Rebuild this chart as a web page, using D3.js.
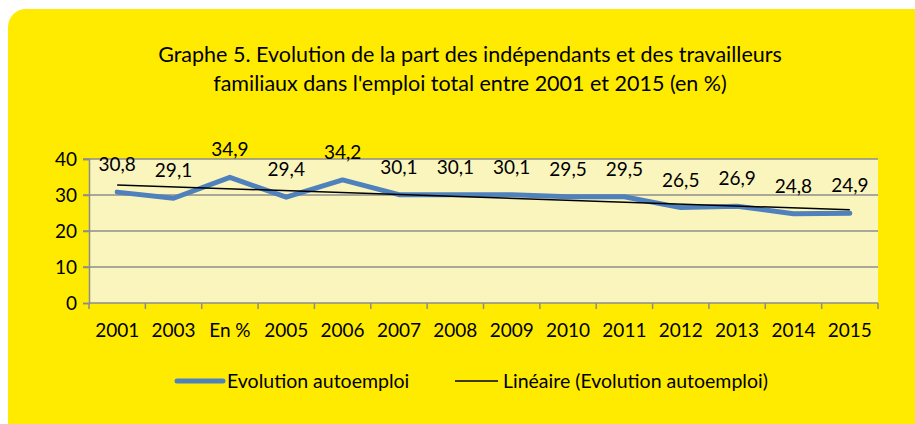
<!DOCTYPE html>
<html>
<head>
<meta charset="utf-8">
<script src="https://cdn.jsdelivr.net/npm/d3@7"></script>
<style>
  body { margin: 0; background: #fff; }
  text { font-family: Lato, "Open Sans", sans-serif; fill: #000; }
</style>
</head>
<body>
<div id="chart"></div>
<script>
// data
var categories = ["2001", "2003", "En %", "2005", "2006", "2007", "2008", "2009", "2010", "2011", "2012", "2013", "2014", "2015"];
var values = [30.8, 29.1, 34.9, 29.4, 34.2, 30.1, 30.1, 30.1, 29.5, 29.5, 26.5, 26.9, 24.8, 24.9];
var yTicks = [0, 10, 20, 30, 40];
var titleLines = ["Graphe 5. Evolution de la part des indépendants et des travailleurs",
                  "familiaux dans l'emploi total entre 2001 et 2015 (en %)"];
var seriesNames = ["Evolution autoemploi", "Linéaire (Evolution autoemploi)"];

var W = 915, H = 424;
var margin = {top: 159, right: 37, bottom: 121, left: 89},
    width = W - margin.left - margin.right,
    height = H - margin.top - margin.bottom;

var svg = d3.select("#chart")
  .append("svg")
    .attr("width", W)
    .attr("height", H);

// yellow rounded panel
svg.append("rect")
  .attr("x", 8).attr("y", 9)
  .attr("width", 930).attr("height", 432)
  .attr("rx", 18)
  .style("fill", "#ffeb00");

// title
svg.selectAll(".title")
  .data(titleLines)
  .enter()
  .append("text")
    .attr("class", "title")
    .attr("x", 470)
    .attr("y", function(d, i) { return 62 + i * 29; })
    .attr("text-anchor", "middle")
    .style("font-size", "21.5px")
    .text(function(d) { return d; });

var g = svg.append("g")
  .attr("transform", "translate(" + margin.left + "," + margin.top + ")");

var x = d3.scaleBand()
  .domain(categories)
  .range([0, width]);

var y = d3.scaleLinear()
  .domain([0, 40])
  .range([height, 0]);

// plot area
g.append("rect")
  .attr("width", width)
  .attr("height", height)
  .style("fill", "#faf5bd");

// gridlines
g.selectAll(".grid")
  .data(yTicks.slice(1))
  .enter()
  .append("line")
    .attr("x1", -6).attr("x2", width)
    .attr("y1", function(d) { return y(d); })
    .attr("y2", function(d) { return y(d); })
    .style("stroke", "#8c8c8c")
    .style("stroke-width", 1.5);

// y axis
var yAxis = g.append("g")
  .call(d3.axisLeft(y).tickValues(yTicks).tickSize(6).tickPadding(6));
yAxis.select(".domain").style("stroke", "#8c8c8c").style("stroke-width", 1.5);
yAxis.selectAll(".tick line").style("stroke", "#8c8c8c").style("stroke-width", 1.5);
yAxis.selectAll("text").style("font-size", "19px").style("font-family", "Lato, 'Open Sans', sans-serif");

// x axis: ticks on band boundaries
var xAxis = g.append("g")
  .attr("transform", "translate(0," + height + ")");
xAxis.append("line")
  .attr("x1", 0).attr("x2", width)
  .style("stroke", "#8c8c8c").style("stroke-width", 1.5);
xAxis.selectAll(".xtick")
  .data(categories.concat(["end"]))
  .enter()
  .append("line")
    .attr("x1", function(d, i) { return i < categories.length ? x(d) : width; })
    .attr("x2", function(d, i) { return i < categories.length ? x(d) : width; })
    .attr("y1", 0).attr("y2", 6)
    .style("stroke", "#8c8c8c").style("stroke-width", 1.5);
xAxis.selectAll(".xlabel")
  .data(categories)
  .enter()
  .append("text")
    .attr("x", function(d) { return x(d) + x.bandwidth() / 2; })
    .attr("y", 34)
    .attr("text-anchor", "middle")
    .style("font-size", "19px")
    .text(function(d) { return d; });

// series line
var line = d3.line()
  .x(function(d, i) { return x(categories[i]) + x.bandwidth() / 2; })
  .y(function(d) { return y(d); });

g.append("path")
  .datum(values)
  .attr("d", line)
  .style("fill", "none")
  .style("stroke", "#4f81bd")
  .style("stroke-width", 5)
  .style("stroke-linejoin", "round")
  .style("stroke-linecap", "round");

// linear trend (least squares on index)
var n = values.length;
var xs = d3.range(1, n + 1);
var mx = d3.mean(xs), my = d3.mean(values);
var sxy = d3.sum(xs, function(v, i) { return (v - mx) * (values[i] - my); });
var sxx = d3.sum(xs, function(v) { return (v - mx) * (v - mx); });
var slope = sxy / sxx, intercept = my - slope * mx;
var trend = [intercept + slope * 1, intercept + slope * n];

g.append("line")
  .attr("x1", x(categories[0]) + x.bandwidth() / 2)
  .attr("x2", x(categories[n - 1]) + x.bandwidth() / 2)
  .attr("y1", y(trend[0]))
  .attr("y2", y(trend[1]))
  .style("stroke", "#000")
  .style("stroke-width", 1.5);

// data labels
g.selectAll(".lbl")
  .data(values)
  .enter()
  .append("text")
    .attr("x", function(d, i) { return x(categories[i]) + x.bandwidth() / 2; })
    .attr("y", function(d) { return y(d) - 21; })
    .attr("text-anchor", "middle")
    .style("font-size", "19px")
    .text(function(d) { return d3.format(".1f")(d).replace(".", ","); });

// legend
var legend = svg.append("g").attr("transform", "translate(0,381)");
legend.append("line")
  .attr("x1", 177).attr("x2", 223)
  .style("stroke", "#4f81bd").style("stroke-width", 5).style("stroke-linecap", "round");
legend.append("text")
  .attr("x", 227).attr("y", 7)
  .style("font-size", "19.5px")
  .text(seriesNames[0]);
legend.append("line")
  .attr("x1", 455).attr("x2", 498)
  .style("stroke", "#000").style("stroke-width", 1.5);
legend.append("text")
  .attr("x", 503).attr("y", 7)
  .style("font-size", "19.5px")
  .text(seriesNames[1]);
</script>
</body>
</html>
